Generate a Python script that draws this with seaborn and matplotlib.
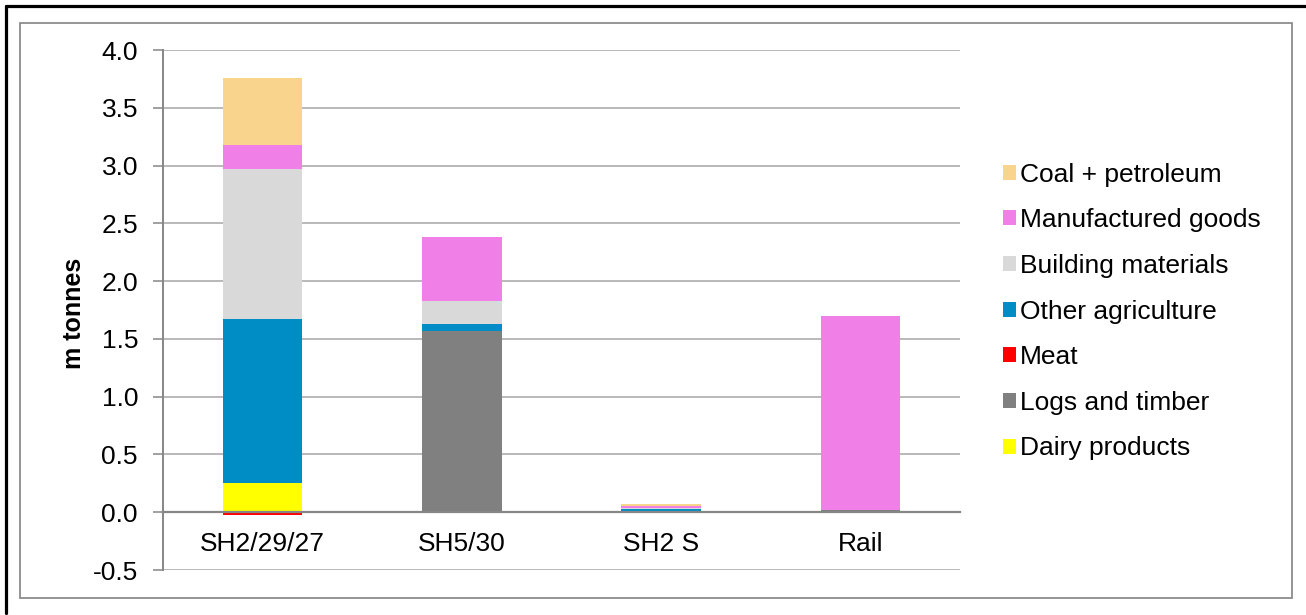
import numpy as np
import pandas as pd
import matplotlib
matplotlib.use("Agg")
import matplotlib.pyplot as plt
from matplotlib.patches import Patch, Rectangle
from matplotlib.lines import Line2D
import seaborn as sns

# Freight tonnage by corridor (million tonnes), per commodity
corridors = ["SH2/29/27", "SH5/30", "SH2 S", "Rail"]
dairy_products = [0.25, 0.0, 0.0, 0.0]
logs_and_timber = [0.0, 1.565, 0.0, 0.02]
meat = [-0.02, 0.0, 0.0, 0.0]
other_agriculture = [1.42, 0.06, 0.03, 0.0]
building_materials = [1.30, 0.20, 0.01, 0.0]
manufactured_goods = [0.21, 0.555, 0.012, 1.68]
coal_petroleum = [0.575, 0.0, 0.015, 0.0]

# Stacking order, bottom to top
series = [
    ("Dairy products", dairy_products, "#FFFF00"),
    ("Logs and timber", logs_and_timber, "#808080"),
    ("Meat", meat, "#FF0000"),
    ("Other agriculture", other_agriculture, "#008CC4"),
    ("Building materials", building_materials, "#D9D9D9"),
    ("Manufactured goods", manufactured_goods, "#F080E8"),
    ("Coal + petroleum", coal_petroleum, "#F9D48C"),
]

y_ticks = [-0.5, 0.0, 0.5, 1.0, 1.5, 2.0, 2.5, 3.0, 3.5, 4.0]

sns.set_theme(style="white")
plt.rcParams["font.family"] = ["Liberation Sans", "DejaVu Sans"]
plt.rcParams["text.color"] = "black"
plt.rcParams["axes.labelcolor"] = "black"
plt.rcParams["xtick.labelcolor"] = "black"
plt.rcParams["ytick.labelcolor"] = "black"

W, H = 1306, 615
fig = plt.figure(figsize=(W / 100, H / 100), dpi=100)
ax = fig.add_axes([163 / W, 1 - 570 / H, 797 / W, 520 / H])

pos_base = np.zeros(len(corridors))
neg_base = np.zeros(len(corridors))
for name, vals, color in series:
    v = np.asarray(vals, dtype=float)
    bottom = np.where(v >= 0, pos_base, neg_base)
    df = pd.DataFrame({"corridor": corridors, "value": v})
    sns.barplot(data=df, x="corridor", y="value", order=corridors,
                color=color, saturation=1, width=0.4, errorbar=None,
                bottom=bottom, linewidth=0, ax=ax, zorder=3)
    pos_base = pos_base + np.where(v >= 0, v, 0)
    neg_base = neg_base + np.where(v < 0, v, 0)

ax.set_xlim(-0.5, 3.5)
ax.set_ylim(-0.5, 4.0)
ax.set_yticks(y_ticks)
ax.set_yticklabels([f"{t:.1f}" for t in y_ticks])

grid_c = "#A6A6A6"
axis_c = "#868686"
ax.yaxis.grid(True, color=grid_c, linewidth=1.1, zorder=0)
ax.xaxis.grid(False)
ax.set_axisbelow(True)

for s in ["top", "right"]:
    ax.spines[s].set_visible(False)
ax.spines["left"].set_color(axis_c)
ax.spines["left"].set_linewidth(1.4)
ax.spines["bottom"].set_position(("data", 0))
ax.spines["bottom"].set_color(axis_c)
ax.spines["bottom"].set_linewidth(1.6)
ax.spines["bottom"].set_zorder(4)

ax.tick_params(axis="y", which="major", direction="out", length=7,
               width=1.1, color=axis_c, labelsize=19, pad=11, left=True)
ax.tick_params(axis="x", length=0, labelsize=19, pad=14)
ax.set_xlabel("")
ax.set_ylabel("m tonnes", fontsize=18, fontweight="bold")
ax.yaxis.set_label_coords(-0.097, 0.494)

# Legend in the same order as the stack, top item first
handles = [Patch(facecolor=c, edgecolor="none", label=n) for n, _, c in reversed(series)]
fig.legend(handles=handles, loc="center left",
           bbox_to_anchor=(1003 / W, 1 - 311.5 / H), frameon=False,
           fontsize=19, handlelength=0.5, handleheight=0.5,
           handletextpad=0.15, labelspacing=0.82, borderpad=0,
           borderaxespad=0, labelcolor="black")

# Chart-area frame and outer border
fig.add_artist(Rectangle((20.5 / W, 1 - 598 / H), (1291.5 - 20.5) / W,
                         (598 - 22.5) / H, transform=fig.transFigure,
                         fill=False, edgecolor="#8C8C8C", linewidth=1.3))
fig.add_artist(Line2D([6 / W, 1.0], [1 - 5.5 / H, 1 - 5.5 / H],
                      transform=fig.transFigure, color="black", linewidth=2.3))
fig.add_artist(Line2D([6 / W, 6 / W], [1 - 5.5 / H, 1 - 613 / H],
                      transform=fig.transFigure, color="black", linewidth=2.3))

fig.savefig("out.png", dpi=100, facecolor="white")
